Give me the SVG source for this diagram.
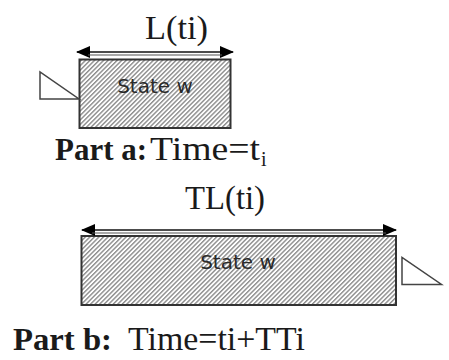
<svg xmlns="http://www.w3.org/2000/svg" width="449" height="360" viewBox="0 0 449 360">
  <defs>
    <pattern id="hatch" patternUnits="userSpaceOnUse" width="3.2" height="10" patternTransform="rotate(45)">
      <rect x="0" y="0" width="1.4" height="10" fill="#8c8c8c"/>
    </pattern>
    <marker id="ah" viewBox="0 0 14 12" refX="13" refY="6" markerWidth="14" markerHeight="12" markerUnits="userSpaceOnUse" orient="auto-start-reverse">
      <path d="M0,0 L14,6 L0,12 Z" fill="#000"/>
    </marker>
  </defs>
  <style>
    .box { fill: url(#hatch); stroke: #333; stroke-width: 2; }
    .tri { fill: #fff; stroke: #444; stroke-width: 1.5; }
    .lbl { font-family: "DejaVu Sans", Verdana, sans-serif; font-size: 20px; fill: #2a2a2a; text-anchor: middle; }
    .dim { font-family: "Liberation Serif", "Times New Roman", serif; font-size: 33px; fill: #1a1a1a; }
    .cap { font-family: "Liberation Serif", "Times New Roman", serif; font-size: 33px; fill: #1a1a1a; }
    .bold { font-weight: bold; font-size: 32px; }
    .sub { font-size: 20px; }
    .dl { stroke: #111; stroke-width: 1.6; fill: none; }
    .dl2 { stroke: #555; stroke-width: 1.1; fill: none; }
  </style>

  <g id="part-a">
    <g id="stateA">
      <rect class="box" x="79.5" y="59.5" width="151" height="68.5"/>
      <text class="lbl" x="155" y="92.5">State w</text>
    </g>
    <g id="triA">
      <polygon class="tri" points="40,72 40,99 79,99"/>
    </g>
    <text class="dim" x="145" y="39" textLength="63" lengthAdjust="spacingAndGlyphs">L(ti)</text>
    <text class="cap bold" x="55" y="160" textLength="92" lengthAdjust="spacingAndGlyphs">Part a:</text>
    <text class="cap" x="150" y="160" textLength="110" lengthAdjust="spacingAndGlyphs">Time=t</text>
    <text class="cap sub" x="261" y="166">i</text>
  </g>

  <g id="part-b">
    <g id="stateB">
      <rect class="box" x="81.5" y="236" width="314.5" height="69"/>
      <text class="lbl" x="238" y="269">State w</text>
    </g>
    <g id="triB">
      <polygon class="tri" points="402,257.5 402,284.5 441.5,284.5"/>
    </g>
    <text class="dim" x="185" y="209" textLength="80" lengthAdjust="spacingAndGlyphs">TL(ti)</text>
    <text class="cap bold" x="13" y="350" textLength="99" lengthAdjust="spacingAndGlyphs">Part b:</text>
    <text class="cap" x="128" y="350" textLength="177" lengthAdjust="spacingAndGlyphs">Time=ti+TTi</text>
  </g>

  <g id="connectors">
    <line class="dl" x1="77" y1="52" x2="233" y2="52" marker-start="url(#ah)" marker-end="url(#ah)"/>
    <line class="dl2" x1="88" y1="55" x2="222" y2="55"/>
    <line class="dl" x1="82" y1="230" x2="396" y2="230" marker-start="url(#ah)" marker-end="url(#ah)"/>
    <line class="dl2" x1="92" y1="233" x2="386" y2="233"/>
  </g>
</svg>
